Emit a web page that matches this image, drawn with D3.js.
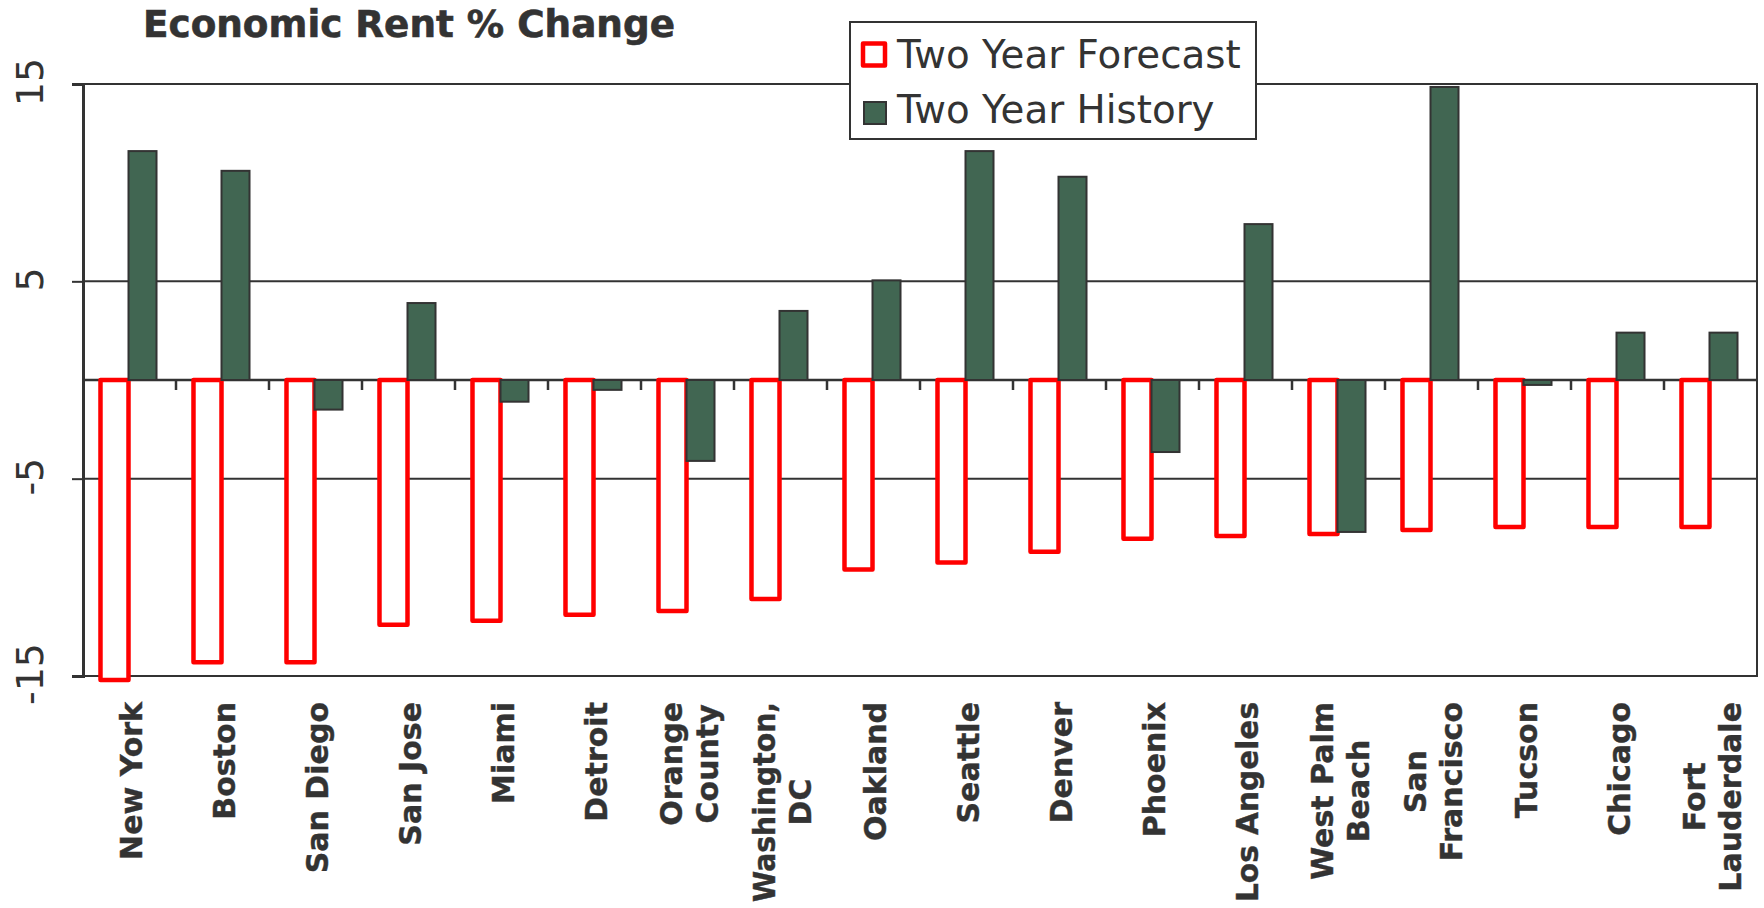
<!DOCTYPE html>
<html>
<head>
<meta charset="utf-8">
<script src="https://cdn.jsdelivr.net/npm/d3@7"></script>
<style>
  html, body { margin: 0; padding: 0; background: #fff; }
  svg { display: block; }
  text { font-family: "DejaVu Sans", Verdana, sans-serif; fill: #333; }
</style>
</head>
<body>
<svg id="chart" width="1764" height="908"></svg>
<script>
// Markets, in chart order
const cities = ["New York", "Boston", "San Diego", "San Jose", "Miami", "Detroit",
  "Orange County", "Washington, DC", "Oakland", "Seattle", "Denver", "Phoenix",
  "Los Angeles", "West Palm Beach", "San Francisco", "Tucson", "Chicago", "Fort Lauderdale"];

// Category labels as they wrap on the axis
const cityLabels = [["New York"], ["Boston"], ["San Diego"], ["San Jose"], ["Miami"], ["Detroit"],
  ["Orange", "County"], ["Washington,", "DC"], ["Oakland"], ["Seattle"], ["Denver"], ["Phoenix"],
  ["Los Angeles"], ["West Palm", "Beach"], ["San", "Francisco"], ["Tucson"], ["Chicago"], ["Fort", "Lauderdale"]];

// Economic rent % change
const forecast = [-15.2, -14.3, -14.3, -12.4, -12.2, -11.9, -11.7, -11.1, -9.6, -9.25,
  -8.7, -8.05, -7.9, -7.8, -7.6, -7.45, -7.45, -7.45];
const history = [11.6, 10.6, -1.5, 3.9, -1.1, -0.5, -4.1, 3.5, 5.05, 11.6,
  10.3, -3.65, 7.9, -7.7, 14.85, -0.25, 2.4, 2.4];

const seriesNames = ["Two Year Forecast", "Two Year History"];
const yTicks = [15, 5, -5, -15];
const yDomain = [-15, 15];
const title = "Economic Rent % Change";

const svg = d3.select("#chart");
const plot = { left: 83, right: 1757, top: 84, bottom: 676 };
const ink = "#333333";
const red = "#ff0000";
const green = "#416652";
const labelTop = 702;
const labelMaxLen = 200;   // room left below the axis for one rotated line

const x0 = d3.scaleBand().domain(cities).range([plot.left, plot.right]).paddingInner(0).paddingOuter(0);
const x1 = d3.scaleBand().domain(["forecast", "history"]).range([0, x0.bandwidth()])
  .paddingInner(0).paddingOuter(0.66);
const y = d3.scaleLinear().domain(yDomain).range([plot.bottom, plot.top]);

const rows = cities.map((c, i) => ({ city: c, lines: cityLabels[i], forecast: forecast[i], history: history[i] }));

// Title
svg.append("text")
  .attr("x", 143).attr("y", 37)
  .attr("font-size", 36.5).attr("font-weight", "bold")
  .attr("stroke", "#333").attr("stroke-width", 0.6)
  .attr("textLength", 532).attr("lengthAdjust", "spacingAndGlyphs")
  .text(title);

// Horizontal gridlines
svg.append("g").selectAll("line").data(yTicks.filter(v => v !== 15 && v !== -15)).join("line")
  .attr("x1", plot.left).attr("x2", plot.right)
  .attr("y1", d => y(d)).attr("y2", d => y(d))
  .attr("stroke", ink).attr("stroke-width", 2);

// Plot frame
svg.append("rect")
  .attr("x", plot.left).attr("y", plot.top)
  .attr("width", plot.right - plot.left).attr("height", plot.bottom - plot.top)
  .attr("fill", "none").attr("stroke", ink).attr("stroke-width", 2);

// Value axis
const yAxis = d3.axisLeft(y).tickValues(yTicks).tickSize(11).tickPadding(0);
const ya = svg.append("g").attr("transform", `translate(${plot.left},0)`).call(yAxis);
ya.select(".domain").attr("stroke", ink).attr("stroke-width", 3);
ya.selectAll(".tick line").attr("stroke", ink).attr("stroke-width", 2);
ya.selectAll(".tick text").remove();
svg.append("g").selectAll("text").data(yTicks).join("text")
  .attr("transform", d => `translate(43,${y(d) - 2}) rotate(-90)`)
  .attr("text-anchor", "middle")
  .attr("font-size", 38)
  .text(d => String(d));

// Category axis along zero
svg.append("line")
  .attr("x1", plot.left).attr("x2", plot.right)
  .attr("y1", y(0)).attr("y2", y(0))
  .attr("stroke", ink).attr("stroke-width", 2.5);
svg.append("g").selectAll("line").data(cities.slice(1)).join("line")
  .attr("x1", d => x0(d)).attr("x2", d => x0(d))
  .attr("y1", y(0)).attr("y2", y(0) + 10)
  .attr("stroke", ink).attr("stroke-width", 2.5);

// Forecast bars: red outline, empty
svg.append("g").selectAll("rect").data(rows).join("rect")
  .attr("x", d => x0(d.city) + x1("forecast") - 1)
  .attr("width", x1.bandwidth())
  .attr("y", d => y(Math.max(0, d.forecast)))
  .attr("height", d => Math.abs(y(d.forecast) - y(0)))
  .attr("fill", "#fff").attr("stroke", red).attr("stroke-width", 4.5)
  .attr("stroke-linejoin", "round");

// History bars: solid green
svg.append("g").selectAll("rect").data(rows).join("rect")
  .attr("x", d => x0(d.city) + x1("history") - 1)
  .attr("width", x1.bandwidth())
  .attr("y", d => y(Math.max(0, d.history)))
  .attr("height", d => Math.abs(y(d.history) - y(0)))
  .attr("fill", green).attr("stroke", ink).attr("stroke-width", 2);

// Category labels, rotated and stacked per line
const lineGap = 36;
const labels = svg.append("g").selectAll("text").data(rows).join("text")
  .attr("text-anchor", "middle")
  .attr("font-size", 30).attr("font-weight", "bold")
  .attr("stroke", "#333").attr("stroke-width", 0.4);
labels.each(function (d) {
  const t = d3.select(this);
  const n = d.lines.length;
  d.lines.forEach((ln, i) => {
    t.append("tspan").attr("x", 0).attr("y", 12 + (i - (n - 1) / 2) * lineGap).text(ln);
  });
  let maxW = 0;
  t.selectAll("tspan").each(function () {
    let w = this.getComputedTextLength();
    if (w > labelMaxLen) {
      d3.select(this).attr("textLength", labelMaxLen).attr("lengthAdjust", "spacingAndGlyphs");
      w = labelMaxLen;
    }
    maxW = Math.max(maxW, w);
  });
  const cx = x0(d.city) + x0.bandwidth() / 2;
  t.attr("transform", `translate(${cx},${labelTop + maxW / 2}) rotate(-90)`);
});

// Legend
const legend = svg.append("g");
legend.append("rect")
  .attr("x", 850).attr("y", 22).attr("width", 406).attr("height", 117)
  .attr("fill", "#fff").attr("stroke", ink).attr("stroke-width", 2);
legend.append("rect")
  .attr("x", 863).attr("y", 43.5).attr("width", 22).attr("height", 22)
  .attr("fill", "#fff").attr("stroke", red).attr("stroke-width", 4.5).attr("stroke-linejoin", "round");
legend.append("rect")
  .attr("x", 864).attr("y", 102).attr("width", 22).attr("height", 22)
  .attr("fill", green).attr("stroke", ink).attr("stroke-width", 2);
legend.selectAll("text.lg").data(seriesNames).join("text")
  .attr("class", "lg")
  .attr("x", 897).attr("y", (d, i) => i === 0 ? 68 : 123)
  .attr("font-size", 38.8)
  .text(d => d);
</script>
</body>
</html>
